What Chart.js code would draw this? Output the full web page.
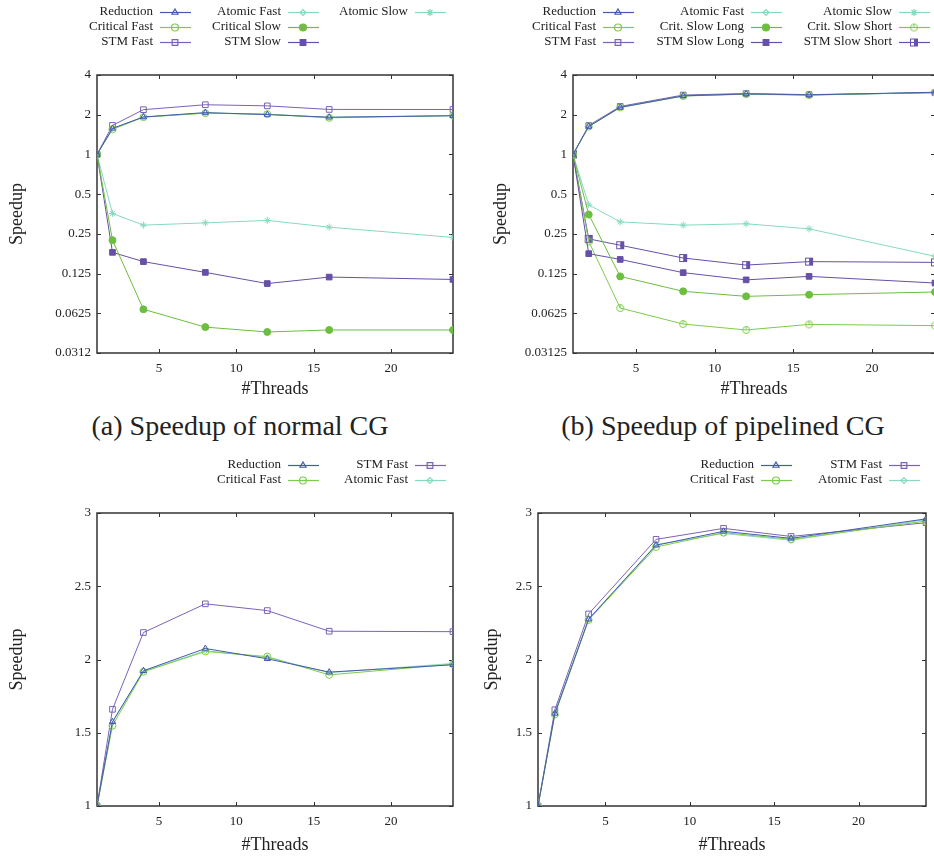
<!DOCTYPE html>
<html>
<head>
<meta charset="utf-8">
<script src="https://cdn.jsdelivr.net/npm/chart.js@4/dist/chart.umd.min.js"></script>
<style>
  body { margin: 0; background: #fff; overflow: hidden; width: 934px; height: 856px; position: relative; }
  canvas { position: absolute; }
  .cap { position: absolute; font-family: "Liberation Serif", serif; font-size: 28px; color: #222; white-space: nowrap; transform: translateX(-50%); }
</style>
</head>
<body>
<canvas id="chartA" width="467" height="400" style="left:0;top:0"></canvas>
<canvas id="chartB" width="473" height="400" style="left:467px;top:0"></canvas>
<canvas id="chartC" width="467" height="406" style="left:0;top:450px"></canvas>
<canvas id="chartD" width="467" height="406" style="left:467px;top:450px"></canvas>
<div class="cap" style="left:240px;top:410px">(a) Speedup of normal CG</div>
<div class="cap" style="left:723px;top:410px">(b) Speedup of pipelined CG</div>
<script>
var threads = [1, 2, 4, 8, 12, 16, 24];
var xTicks = [5, 10, 15, 20];

// normal CG
var normReduction    = [1, 1.575, 1.923, 2.075, 2.005, 1.914, 1.964];
var normCriticalFast = [1, 1.548, 1.916, 2.055, 2.02, 1.895, 1.968];
var normStmFast      = [1, 1.66, 2.184, 2.38, 2.334, 2.193, 2.19];
var normAtomicFast   = [1, 1.57, 1.92, 2.06, 2.014, 1.91, 1.973];
var normCriticalSlow = [1, 0.224, 0.067, 0.0491, 0.0451, 0.0467, 0.0467];
var normStmSlow      = [1, 0.181, 0.154, 0.1276, 0.105, 0.1176, 0.1128];
var normAtomicSlow   = [1, 0.357, 0.291, 0.303, 0.316, 0.281, 0.235];

// pipelined CG
var pipeReduction     = [1, 1.632, 2.275, 2.78, 2.875, 2.827, 2.96];
var pipeCriticalFast  = [1, 1.625, 2.27, 2.768, 2.866, 2.82, 2.945];
var pipeStmFast       = [1, 1.657, 2.311, 2.82, 2.895, 2.84, 2.934];
var pipeAtomicFast    = [1, 1.63, 2.275, 2.784, 2.86, 2.814, 2.955];
var pipeAtomicSlow    = [1, 0.415, 0.308, 0.291, 0.298, 0.273, 0.169];
var pipeCritSlowLong  = [1, 0.350, 0.119, 0.0917, 0.0840, 0.0865, 0.0906];
var pipeCritSlowShort = [1, 0.219, 0.0685, 0.0518, 0.0467, 0.0515, 0.0504];
var pipeStmSlowLong   = [1, 0.177, 0.160, 0.127, 0.112, 0.119, 0.106];
var pipeStmSlowShort  = [1, 0.229, 0.205, 0.164, 0.145, 0.154, 0.152];

var logTicks = [0.03125, 0.0625, 0.125, 0.25, 0.5, 1, 2, 4];
var logLabelsA = ['0.0312', '0.0625', '0.125', '0.25', '0.5', '1', '2', '4'];
var logLabelsB = ['0.03125', '0.0625', '0.125', '0.25', '0.5', '1', '2', '4'];
var linTicks = [1, 1.5, 2, 2.5, 3];
var linLabels = ['1', '1.5', '2', '2.5', '3'];

var cBlue = '#4659b0';
var cGreen = '#7ccc4c';
var cGreenDark = '#6cbf3e';
var cPurple = '#7a62b8';
var cPurpleDark = '#6650a8';
var cTeal = '#86d9bf';

var FONT = '"Liberation Serif", "Times New Roman", serif';

// half filled square and circle with a bar, for the "short" series
function halfSquare(color) {
    var c = document.createElement('canvas');
    c.width = 10; c.height = 10;
    var g = c.getContext('2d');
    g.strokeStyle = color; g.fillStyle = color; g.lineWidth = 1;
    g.strokeRect(1.5, 1.5, 7, 7);
    g.fillRect(5, 1.5, 3.5, 7);
    return c;
}

function barCircle(color) {
    var c = document.createElement('canvas');
    c.width = 10; c.height = 10;
    var g = c.getContext('2d');
    g.strokeStyle = color; g.lineWidth = 1;
    g.beginPath(); g.arc(5, 5, 3.5, 0, Math.PI * 2); g.stroke();
    g.beginPath(); g.moveTo(5, 1.5); g.lineTo(5, 5); g.stroke();
    return c;
}

function series(label, data, color, style, filled, radius) {
    return {
        label: label,
        data: threads.map(function (t, i) { return { x: t, y: data[i] }; }),
        borderColor: color,
        backgroundColor: filled ? color : 'rgba(0,0,0,0)',
        borderWidth: 1,
        pointStyle: style,
        pointRadius: radius || 3.5,
        pointBorderWidth: 1,
        pointBorderColor: color,
        pointBackgroundColor: filled ? color : 'rgba(0,0,0,0)',
        tension: 0
    };
}

var framePlugin = {
    id: 'frame',
    beforeDatasetsDraw: function (chart) {
        var ctx = chart.ctx, a = chart.chartArea, sx = chart.scales.x, sy = chart.scales.y;
        ctx.save();
        ctx.strokeStyle = '#333';
        ctx.lineWidth = 1;
        sx.ticks.forEach(function (t) {
            var px = Math.round(sx.getPixelForValue(t.value)) + 0.5;
            ctx.beginPath();
            ctx.moveTo(px, a.bottom); ctx.lineTo(px, a.bottom - 4);
            ctx.moveTo(px, a.top); ctx.lineTo(px, a.top + 4);
            ctx.stroke();
        });
        sy.ticks.forEach(function (t) {
            var py = Math.round(sy.getPixelForValue(t.value)) + 0.5;
            ctx.beginPath();
            ctx.moveTo(a.left, py); ctx.lineTo(a.left + 4, py);
            ctx.moveTo(a.right, py); ctx.lineTo(a.right - 4, py);
            ctx.stroke();
        });
        ctx.lineWidth = 1.5;
        ctx.strokeRect(a.left, a.top, a.right - a.left, a.bottom - a.top);
        ctx.restore();
    }
};

// gnuplot style key: text right aligned, sample line to its right
var keyPlugin = {
    id: 'key',
    afterDraw: function (chart, args, opts) {
        var ctx = chart.ctx;
        var nRows = opts.rows.length;
        ctx.save();
        ctx.font = '13px ' + FONT;
        ctx.textAlign = 'right';
        ctx.textBaseline = 'middle';
        chart.data.datasets.forEach(function (ds, i) {
            var x = opts.cols[Math.floor(i / nRows)];
            var y = opts.rows[i % nRows];
            ctx.fillStyle = '#222';
            ctx.fillText(ds.label, x, y);
            ctx.strokeStyle = ds.borderColor;
            ctx.lineWidth = 1.2;
            ctx.beginPath();
            ctx.moveTo(x + 7, y + 0.5); ctx.lineTo(x + 38, y + 0.5);
            ctx.stroke();
            ctx.fillStyle = ds.pointBackgroundColor;
            Chart.helpers.drawPoint(ctx, {
                pointStyle: ds.pointStyle, radius: ds.pointRadius, borderWidth: 1, rotation: 0
            }, x + 22, y + 0.5);
        });
        ctx.restore();
    }
};

function makeChart(id, datasets, o) {
    var yScale = o.log ? {
        type: 'logarithmic', min: 0.03125, max: 4
    } : {
        type: 'linear', min: 1, max: 3
    };
    var yTicks = o.log ? logTicks : linTicks;
    var yLabels = o.labels;
    yScale.afterBuildTicks = function (s) { s.ticks = yTicks.map(function (v) { return { value: v }; }); };
    yScale.afterFit = function (s) { s.width = o.yWidth; };
    yScale.ticks = {
        font: { family: FONT, size: 13 }, color: '#222', padding: 6,
        callback: function (v, i) { return yLabels[i]; }
    };
    yScale.grid = { display: false, drawTicks: false };
    yScale.border = { display: false };
    yScale.title = { display: true, text: 'Speedup', font: { family: FONT, size: 18 }, color: '#222', padding: { top: o.yTitlePad, bottom: 0 } };

    return new Chart(document.getElementById(id), {
        type: 'line',
        data: { datasets: datasets },
        options: {
            responsive: false,
            animation: false,
            layout: { padding: { top: o.top, right: o.right, left: 0, bottom: 0 } },
            plugins: {
                legend: { display: false },
                tooltip: { enabled: false },
                key: { cols: o.cols, rows: o.rows }
            },
            scales: {
                x: {
                    type: 'linear', min: 1, max: 24,
                    afterBuildTicks: function (s) { s.ticks = xTicks.map(function (v) { return { value: v }; }); },
                    afterFit: function (s) { s.height = o.xHeight; },
                    ticks: { font: { family: FONT, size: 13 }, color: '#222', padding: 8 },
                    grid: { display: false, drawTicks: false },
                    border: { display: false },
                    title: { display: true, text: '#Threads', font: { family: FONT, size: 18 }, color: '#222', padding: { top: 0, bottom: 0 } }
                },
                y: yScale
            }
        },
        plugins: [framePlugin, keyPlugin]
    });
}

makeChart('chartA', [
    series('Reduction', normReduction, cBlue, 'triangle', false, 3.5),
    series('Critical Fast', normCriticalFast, cGreen, 'circle', false, 3.5),
    series('STM Fast', normStmFast, cPurple, 'rect', false, 4),
    series('Atomic Fast', normAtomicFast, cTeal, 'rectRot', false, 3),
    series('Critical Slow', normCriticalSlow, cGreenDark, 'circle', true, 3.5),
    series('STM Slow', normStmSlow, cPurpleDark, 'rect', true, 4),
    series('Atomic Slow', normAtomicSlow, cTeal, 'star', false, 3.5)
], { log: true, labels: logLabelsA, top: 75, right: 14, yWidth: 97, xHeight: 47, yTitlePad: 6,
     cols: [153, 281, 408], rows: [12, 27, 42] });

makeChart('chartB', [
    series('Reduction', pipeReduction, cBlue, 'triangle', false, 3.5),
    series('Critical Fast', pipeCriticalFast, cGreen, 'circle', false, 3.5),
    series('STM Fast', pipeStmFast, cPurple, 'rect', false, 4),
    series('Atomic Fast', pipeAtomicFast, cTeal, 'rectRot', false, 3),
    series('Crit. Slow Long', pipeCritSlowLong, cGreenDark, 'circle', true, 3.5),
    series('STM Slow Long', pipeStmSlowLong, cPurpleDark, 'rect', true, 4),
    series('Atomic Slow', pipeAtomicSlow, cTeal, 'star', false, 3.5),
    series('Crit. Slow Short', pipeCritSlowShort, cGreen, barCircle(cGreen), false, 4),
    series('STM Slow Short', pipeStmSlowShort, cPurpleDark, halfSquare(cPurpleDark), false, 4)
], { log: true, labels: logLabelsB, top: 75, right: 5, yWidth: 106, xHeight: 47, yTitlePad: 23,
     cols: [129, 277, 425], rows: [12, 27, 42] });

makeChart('chartC', [
    series('Reduction', normReduction, cBlue, 'triangle', false, 3.5),
    series('Critical Fast', normCriticalFast, cGreen, 'circle', false, 3.5),
    series('STM Fast', normStmFast, cPurple, 'rect', false, 4),
    series('Atomic Fast', normAtomicFast, cTeal, 'rectRot', false, 3)
], { log: false, labels: linLabels, top: 63, right: 14, yWidth: 97, xHeight: 50, yTitlePad: 6,
     cols: [281, 408], rows: [15, 30] });

makeChart('chartD', [
    series('Reduction', pipeReduction, cBlue, 'triangle', false, 3.5),
    series('Critical Fast', pipeCriticalFast, cGreen, 'circle', false, 3.5),
    series('STM Fast', pipeStmFast, cPurple, 'rect', false, 4),
    series('Atomic Fast', pipeAtomicFast, cTeal, 'rectRot', false, 3)
], { log: false, labels: linLabels, top: 63, right: 8, yWidth: 71, xHeight: 50, yTitlePad: 14,
     cols: [287, 415], rows: [15, 30] });
</script>
</body>
</html>
